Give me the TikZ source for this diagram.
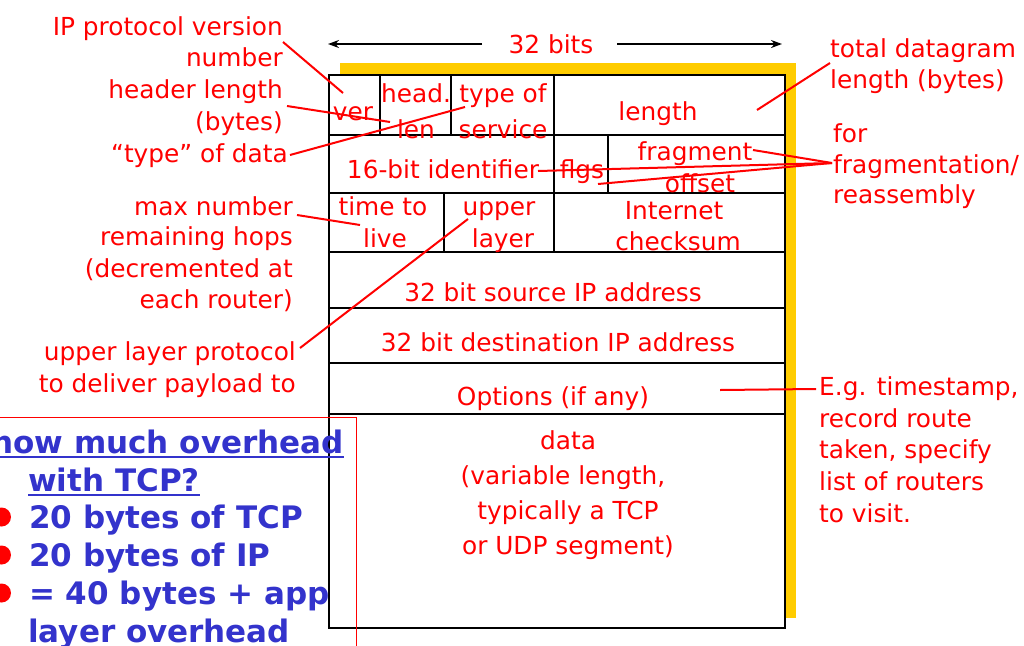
\documentclass[tikz,border=0pt]{standalone}
\usepackage{fontspec}
\setmainfont{DejaVu Sans}
\usetikzlibrary{arrows.meta}
\definecolor{rd}{HTML}{FF0000}
\definecolor{yl}{HTML}{FFCC00}
\definecolor{bl}{HTML}{3333CC}
\tikzset{
  lbl/.style={text=rd, font=\fontsize{24.8}{31}\selectfont, inner sep=0pt},
  blu/.style={text=bl, font=\fontsize{31}{38}\selectfont\bfseries, inner sep=0pt},
  grid/.style={black, line width=2.6pt},
  conn/.style={rd, line width=2pt},
  bitarrow/.style={black, line width=2pt, -{Stealth[length=11pt,width=8pt]}},
  bul/.style={fill=rd, draw=none}
}
\begin{document}
\begin{tikzpicture}[x=1pt,y=-1pt]
\path[use as bounding box, fill=white] (0,0) rectangle (1024,645);
% shadow and box
\fill[yl] (340,63) rectangle (796,618);
\fill[white] (329,75) rectangle (785,628);
\draw[grid] (329,75) rectangle (785,628);
\draw[grid] (329,135) -- (785,135);
\draw[grid] (329,193) -- (785,193);
\draw[grid] (329,252) -- (785,252);
\draw[grid] (329,308) -- (785,308);
\draw[grid] (329,363) -- (785,363);
\draw[grid] (329,414) -- (785,414);
\draw[grid] (380,75) -- (380,135);
\draw[grid] (451,75) -- (451,135);
\draw[grid] (554,75) -- (554,135);
\draw[grid] (554,135) -- (554,193);
\draw[grid] (608,135) -- (608,193);
\draw[grid] (444,193) -- (444,252);
\draw[grid] (554,193) -- (554,252);

% 32 bits
\node[lbl, anchor=base] (bits) at (551,53) {32 bits};
\coordinate (bitsL) at (482,44);
\coordinate (bitsLend) at (328,44);
\coordinate (bitsR) at (617,44);
\coordinate (bitsRend) at (782,44);
\draw[bitarrow] (bitsL) -- (bitsLend);
\draw[bitarrow] (bitsR) -- (bitsRend);

% field labels
\node[lbl, anchor=base] (fver) at (353,120) {ver};
\node[lbl, anchor=base] (fhead) at (416,102) {head.};
\node[lbl, anchor=base] (flen) at (416,138) {len};
\node[lbl, anchor=base] (ftype) at (503,102) {type of};
\node[lbl, anchor=base] (fserv) at (503,138) {service};
\node[lbl, anchor=base] (flength) at (658,120) {length};
\node[lbl, anchor=base] (fid) at (443,178) {16-bit identifier};
\node[lbl, anchor=base] (fflgs) at (582,178) {flgs};
\node[lbl, anchor=base] (ffrag) at (695,160) {fragment};
\node[lbl, anchor=base] (foff) at (700,192) {offset};
\node[lbl, anchor=base] (fttl) at (383,215) {time to};
\node[lbl, anchor=base] (flive) at (385,247) {live};
\node[lbl, anchor=base] (fup) at (499,215) {upper};
\node[lbl, anchor=base] (flay) at (503,247) {layer};
\node[lbl, anchor=base] (fint) at (674,219) {Internet};
\node[lbl, anchor=base] (fchk) at (678,250) {checksum};
\node[lbl, anchor=base] (fsrc) at (553,301) {32 bit source IP address};
\node[lbl, anchor=base] (fdst) at (558,351) {32 bit destination IP address};
\node[lbl, anchor=base] (fopt) at (553,405) {Options (if any)};
\node[lbl, anchor=base] (fdata1) at (568,449) {data};
\node[lbl, anchor=base] (fdata2) at (563,484) {(variable length,};
\node[lbl, anchor=base] (fdata3) at (568,519) {typically a TCP};
\node[lbl, anchor=base] (fdata4) at (568,554) {or UDP segment)};

% left annotations
\node[lbl, anchor=base east] (aip1) at (283,35) {IP protocol version};
\node[lbl, anchor=base east] (aip2) at (283,66) {number};
\node[lbl, anchor=base east] (ahl1) at (283,98) {header length};
\node[lbl, anchor=base east] (ahl2) at (283,130) {(bytes)};
\node[lbl, anchor=base east] (atos) at (288,162) {“type” of data};
\node[lbl, anchor=base east] (attl1) at (293,215) {max number};
\node[lbl, anchor=base east] (attl2) at (293,245) {remaining hops};
\node[lbl, anchor=base east] (attl3) at (293,277) {(decremented at};
\node[lbl, anchor=base east] (attl4) at (293,308) {each router)};
\node[lbl, anchor=base east] (aup1) at (296,360) {upper layer protocol};
\node[lbl, anchor=base east] (aup2) at (296,392) {to deliver payload to};

% right annotations
\node[lbl, anchor=base west] (atl1) at (830,57) {total datagram};
\node[lbl, anchor=base west] (atl2) at (830,88) {length (bytes)};
\node[lbl, anchor=base west] (afr1) at (833,142) {for};
\node[lbl, anchor=base west] (afr2) at (833,173) {fragmentation/};
\node[lbl, anchor=base west] (afr3) at (833,203) {reassembly};
\node[lbl, anchor=base west] (aeg1) at (819,395) {E.g. timestamp,};
\node[lbl, anchor=base west] (aeg2) at (819,427) {record route};
\node[lbl, anchor=base west] (aeg3) at (819,458) {taken, specify};
\node[lbl, anchor=base west] (aeg4) at (819,490) {list of routers};
\node[lbl, anchor=base west] (aeg5) at (819,522) {to visit.};

% connector end points
\coordinate (cIPa) at (283,42);   \coordinate (cIPb) at (343,93);
\coordinate (cHLa) at (287,106);  \coordinate (cHLb) at (390,122);
\coordinate (cTOa) at (290,155);  \coordinate (cTOb) at (465,107);
\coordinate (cTLa) at (830,63);   \coordinate (cTLb) at (757,110);
\coordinate (cFR) at (832,163);
\coordinate (cFRa) at (753,150);  \coordinate (cFRb) at (538,171);
\coordinate (cFRc) at (598,184);
\coordinate (cTTa) at (297,215);  \coordinate (cTTb) at (360,225);
\coordinate (cUPa) at (300,348);  \coordinate (cUPb) at (468,219);
\coordinate (cOPa) at (720,390);  \coordinate (cOPb) at (816,389);

\draw[conn] (cIPa) -- (cIPb);
\draw[conn] (cHLa) -- (cHLb);
\draw[conn] (cTOa) -- (cTOb);
\draw[conn] (cTLa) -- (cTLb);
\draw[conn] (cFR) -- (cFRa);
\draw[conn] (cFR) -- (cFRb);
\draw[conn] (cFR) -- (cFRc);
\draw[conn] (cTTa) -- (cTTb);
\draw[conn] (cUPa) -- (cUPb);
\draw[conn] (cOPa) -- (cOPb);

% blue overhead box
\draw[rd, line width=1pt] (-5,417) -- (356,417) -- (356,660);
\node[blu, anchor=base east] (b1) at (344,453) {how much overhead};
\node[blu, anchor=base west] (b2) at (28,491) {with TCP?};
\draw[bl, line width=2pt] (-5,457) -- (344,457);
\draw[bl, line width=2pt] (28,495) -- (b2.base east |- 0,495);
\node[blu, anchor=base west] (b3) at (29,528) {20 bytes of TCP};
\node[blu, anchor=base west] (b4) at (29,566) {20 bytes of IP};
\node[blu, anchor=base west] (b5) at (29,604) {= 40 bytes + app};
\node[blu, anchor=base west] (b6) at (28,642) {layer overhead};
\fill[bul] (1.5,517) circle (9.5);
\fill[bul] (1.5,555) circle (9.5);
\fill[bul] (1.5,593) circle (9.5);
\end{tikzpicture}
\end{document}
